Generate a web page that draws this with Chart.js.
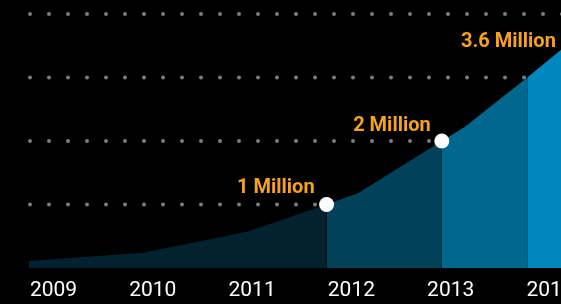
<!DOCTYPE html>
<html>
<head>
<meta charset="utf-8">
<script src="https://cdn.jsdelivr.net/npm/chart.js"></script>
<style>
    html, body { margin: 0; padding: 0; background: #000; overflow: hidden; }
    #wrap { width: 640px; height: 304px; }
</style>
</head>
<body>
<div id="wrap"><canvas id="usersChart"></canvas></div>
<script>
const years = [2009, 2010, 2011, 2012, 2013, 2014];
const userYears = [2008.75, 2009.9, 2010.95, 2011.75, 2012.07, 2012.91, 2013.14, 2013.77, 2014.24];
const userMillions = [0.11, 0.24, 0.57, 1.0, 1.18, 2.0, 2.22, 3.0, 3.6];
const milestoneLabels = ['', '', '', '1 Million', '', '2 Million', '', '', '3.6 Million'];
const markedPoints = [3, 5];
const segmentPeriod = [0, 0, 0, 1, 1, 2, 2, 3];
const gridValues = [1, 2, 3, 4];

const periodColors = ['#03222f', '#01425a', '#02678e', '#0088be'];
const labelOffsets = { '1 Million': [-12, -11], '2 Million': [-11, -10], '3.6 Million': [-18, 8] };

const dotGrid = {
    id: 'dotGrid',
    beforeDatasetsDraw(chart) {
        const { ctx, chartArea, scales: { y } } = chart;
        ctx.save();
        ctx.fillStyle = '#7d7d7d';
        gridValues.forEach(v => {
            const py = y.getPixelForValue(v);
            for (let px = 30; px < chartArea.right; px += 19) {
                ctx.beginPath();
                ctx.arc(px, py, 2, 0, Math.PI * 2);
                ctx.fill();
            }
        });
        ctx.restore();
    }
};

const milestones = {
    id: 'milestones',
    afterDatasetsDraw(chart) {
        const { ctx } = chart;
        const meta = chart.getDatasetMeta(0);
        ctx.save();
        ctx.fillStyle = '#f5a31f';
        ctx.font = 'bold 20px Roboto';
        ctx.textAlign = 'right';
        ctx.textBaseline = 'alphabetic';
        milestoneLabels.forEach((text, i) => {
            if (!text) return;
            const pt = meta.data[i];
            const [dx, dy] = labelOffsets[text];
            ctx.fillText(text, pt.x + dx, pt.y + dy);
        });
        ctx.restore();
    }
};

const points = userYears.map((x, i) => ({ x: x, y: userMillions[i] }));

new Chart(document.getElementById('usersChart').getContext('2d'), {
    type: 'line',
    data: {
        datasets: [{
            label: 'Users',
            data: points,
            fill: 'origin',
            borderWidth: 0,
            borderColor: 'rgba(0,0,0,0)',
            backgroundColor: periodColors[0],
            tension: 0,
            pointRadius: (c) => markedPoints.includes(c.dataIndex) ? 7.5 : 0,
            pointBackgroundColor: '#ffffff',
            pointBorderWidth: 0,
            segment: {
                backgroundColor: (c) => periodColors[segmentPeriod[c.p0DataIndex]]
            }
        }]
    },
    options: {
        responsive: true,
        maintainAspectRatio: false,
        animation: false,
        layout: { padding: 0, autoPadding: false },
        plugins: {
            legend: { display: false },
            tooltip: { enabled: false }
        },
        scales: {
            x: {
                type: 'linear',
                min: 2008.4612,
                max: 2014.906,
                grid: { display: false, drawTicks: false },
                border: { display: false },
                afterBuildTicks: (scale) => {
                    scale.ticks = years.map(v => ({ value: v }));
                },
                afterFit: (scale) => { scale.height = 36; },
                ticks: {
                    color: '#ffffff',
                    font: { family: 'Roboto', size: 21 },
                    padding: 10,
                    autoSkip: false,
                    maxRotation: 0,
                    callback: (v) => String(v)
                }
            },
            y: {
                display: false,
                min: 0,
                max: 4.22
            }
        }
    },
    plugins: [dotGrid, milestones]
});
</script>
</body>
</html>
